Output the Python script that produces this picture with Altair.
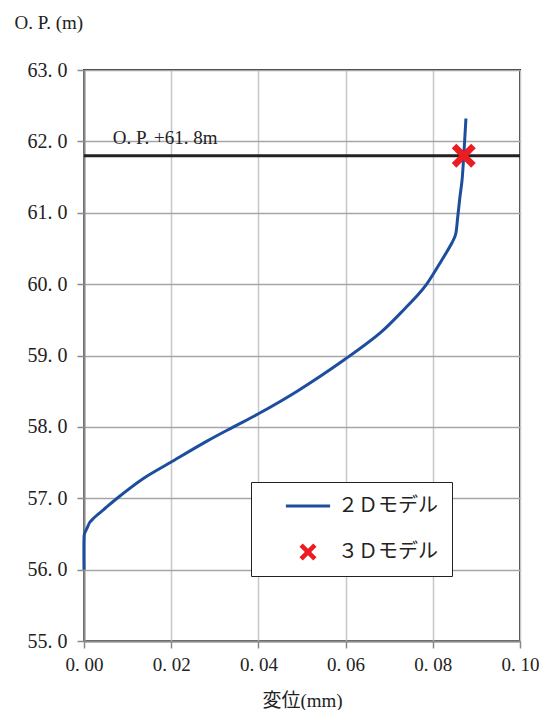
import altair as alt
import pandas as pd

# 2D model: displacement (mm) vs elevation O.P. (m)
disp_2d = [0.0000, 0.0000, 0.0001, 0.0007, 0.0013, 0.0022, 0.0045, 0.0076, 0.0137,
           0.0198, 0.0282, 0.0343, 0.0399, 0.0489, 0.0597, 0.0680, 0.0738, 0.0766,
           0.0786, 0.0817, 0.0844, 0.0852, 0.0857, 0.0862, 0.0867, 0.0871, 0.0876]
elev_2d = [56.00, 56.42, 56.50, 56.58, 56.66, 56.72, 56.84, 57.00, 57.28,
           57.50, 57.80, 58.00, 58.18, 58.50, 58.94, 59.32, 59.67, 59.85,
           60.00, 60.30, 60.58, 60.69, 60.93, 61.21, 61.45, 61.80, 62.32]

# 3D model point
disp_3d = [0.0871]
elev_3d = [61.80]

series_names = ["２Ｄモデル", "３Ｄモデル"]
ref_level = [61.8]
ref_label = ["O. P. +61. 8m"]
ref_label_x = [0.0066]

x_ticks = [0.0, 0.02, 0.04, 0.06, 0.08, 0.10]
y_ticks = [55, 56, 57, 58, 59, 60, 61, 62, 63]

BLUE = "#1d4e9e"
RED = "#ec1c24"
FONT = "Liberation Serif, Noto Sans CJK JP"

line_path = "M-2.6,-0.18L2.6,-0.18L2.6,0.18L-2.6,0.18Z"
cross_path = ("M-0.62,-1L0,-0.38L0.62,-1L1,-0.62L0.38,0L1,0.62L0.62,1L0,0.38"
              "L-0.62,1L-1,0.62L-0.38,0L-1,-0.62Z")

df2 = pd.DataFrame({"disp": disp_2d, "elev": elev_2d, "idx": range(len(disp_2d))})
df3 = pd.DataFrame({"disp": disp_3d, "elev": elev_3d, "series": [series_names[1]]})
dfr = pd.DataFrame({"elev": ref_level})
dft = pd.DataFrame({"disp": ref_label_x, "elev": ref_level, "label": ref_label})

xscale = alt.Scale(domain=[0, 0.1], nice=False, zero=False)
yscale = alt.Scale(domain=[55, 63], nice=False, zero=False)

xaxis = alt.Axis(values=x_ticks, title="変位(mm)",
                 labelExpr="replace(format(datum.value, '.2f'), '.', '. ')",
                 labelFlush=False, labelPadding=7, labelFontSize=19,
                 titleY=59, titleBaseline="middle", titleFontWeight="normal")
yaxis = alt.Axis(values=y_ticks, title="O. P. (m)",
                 labelExpr="replace(format(datum.value, '.1f'), '.', '. ')",
                 labelPadding=10,
                 titleAngle=0, titleAlign="left", titleBaseline="middle",
                 titleX=-70, titleY=-48, titleFontWeight="normal")

line = alt.Chart(df2).mark_line(color=BLUE, strokeWidth=3, interpolate="catmull-rom").encode(
    x=alt.X("disp:Q", scale=xscale, axis=xaxis),
    y=alt.Y("elev:Q", scale=yscale, axis=yaxis),
    order="idx:Q",
)

rule = alt.Chart(dfr).mark_rule(color="#222222", strokeWidth=3).encode(
    y=alt.Y("elev:Q", scale=yscale)
)

text = alt.Chart(dft).mark_text(align="left", baseline="bottom", dy=-8, font=FONT,
                                fontSize=19, color="#222222").encode(
    x=alt.X("disp:Q", scale=xscale),
    y=alt.Y("elev:Q", scale=yscale),
    text="label:N",
)

legend = alt.Legend(
    title=None, orient="none", legendX=167, legendY=412,
    strokeColor="#222222", fillColor="white", padding=14,
    symbolSize=289, symbolOffset=33, labelOffset=20, rowPadding=26,
    symbolStrokeWidth=0, symbolOpacity=1,
    labelFont=FONT, labelFontSize=20, labelColor="#222222",
    labelExpr="datum.label + '\u3000'",
)

points = alt.Chart(df3).mark_point(filled=True, size=576, opacity=1, strokeWidth=0).encode(
    x=alt.X("disp:Q", scale=xscale),
    y=alt.Y("elev:Q", scale=yscale),
    color=alt.Color("series:N", scale=alt.Scale(domain=series_names, range=[BLUE, RED]),
                    legend=legend),
    shape=alt.Shape("series:N", scale=alt.Scale(domain=series_names,
                                                range=[line_path, cross_path]),
                    legend=legend),
)

chart = alt.layer(line, rule, text, points).properties(
    width=436, height=571,
    autosize=alt.AutoSizeParams(type="none"),
    padding={"left": 76, "top": 62, "right": 19, "bottom": 69},
).configure_view(
    stroke="#333333", strokeWidth=2
).configure_axis(
    labelFont=FONT, titleFont=FONT, labelFontSize=20, titleFontSize=19,
    labelColor="#222222", titleColor="#222222",
    domainColor="#8a8a8a", domainWidth=2, tickColor="#8a8a8a", tickWidth=1.5,
    tickSize=7, gridWidth=1.5,
).configure_axisX(
    gridColor="#c8c8c8",
).configure_axisY(
    gridColor="#a6a6a6",
)

chart.save("out.html", embed_options={"renderer": "svg", "actions": False})
